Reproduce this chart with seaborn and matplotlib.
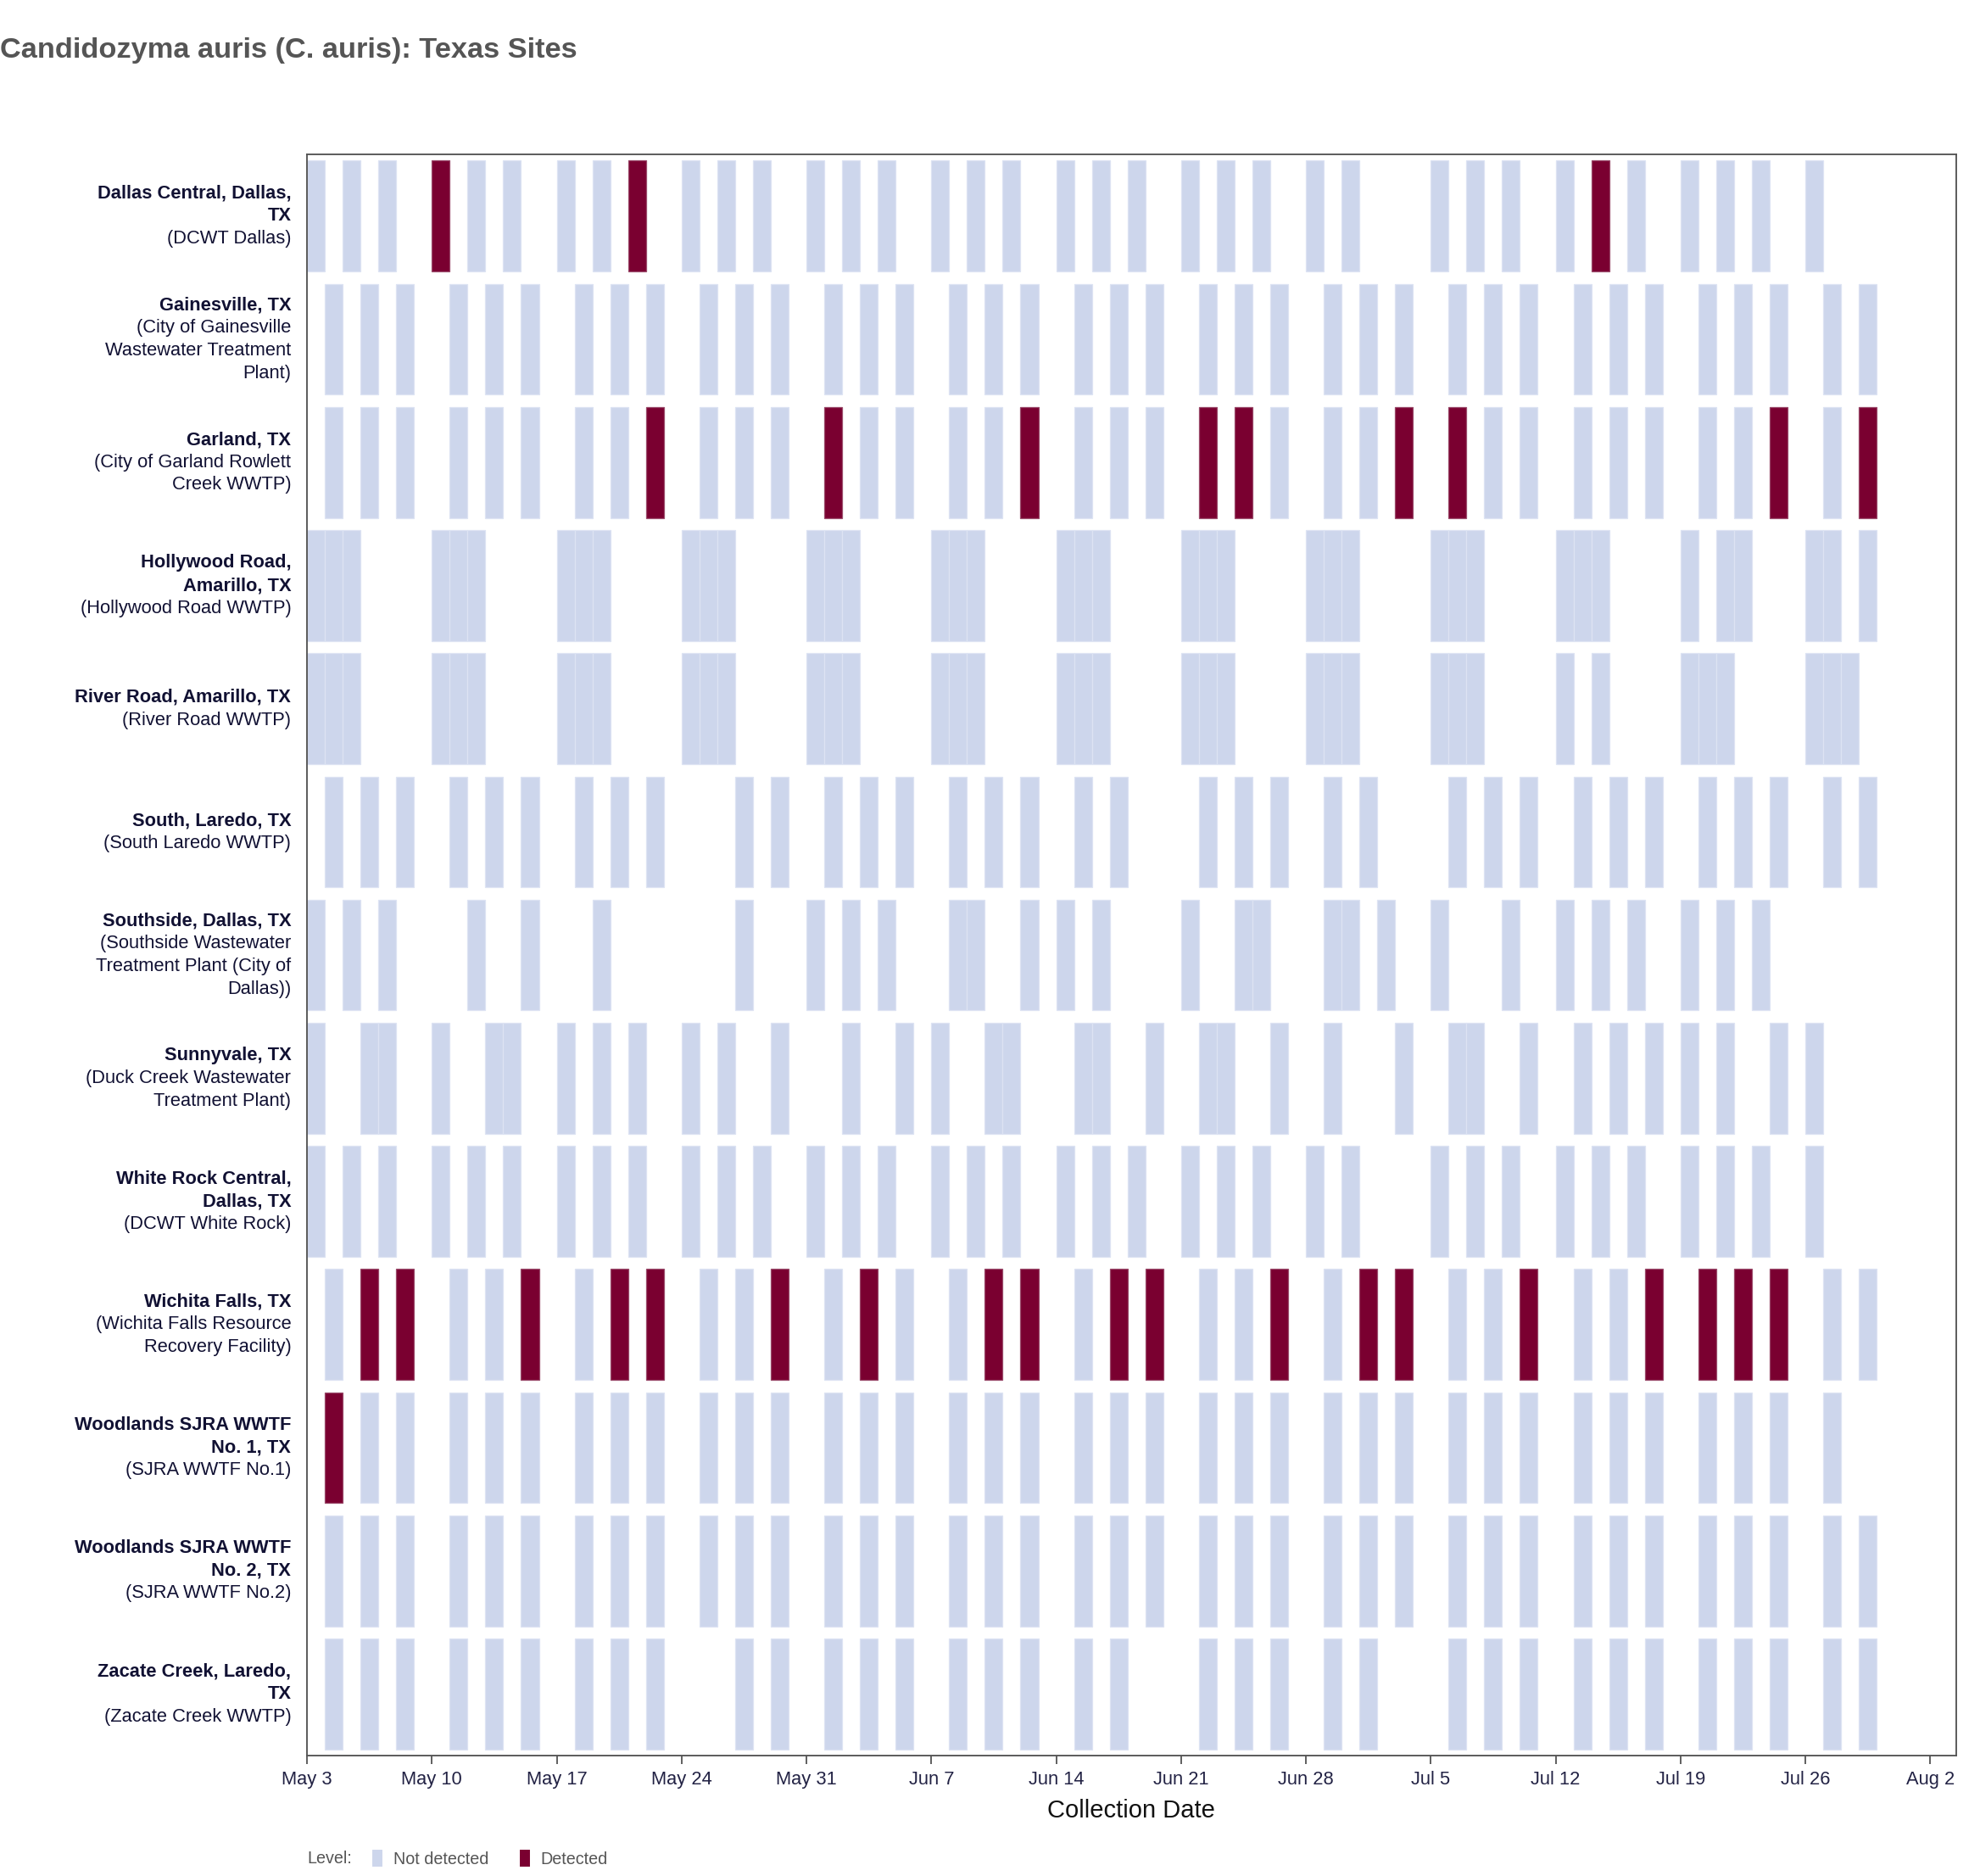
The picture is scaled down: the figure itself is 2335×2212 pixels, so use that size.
import matplotlib
matplotlib.use("Agg")
import matplotlib.pyplot as plt
import matplotlib.transforms as mtransforms
from matplotlib.patches import Patch
import seaborn as sns
import numpy as np
import pandas as pd

# Sampling days counted from May 3 (day 0)
dallas_days = [0, 2, 4, 7, 9, 11, 14, 16, 18, 21, 23, 25, 28, 30, 32, 35, 37, 39, 42, 44, 46,
               49, 51, 53, 56, 58, 63, 65, 67, 70, 72, 74, 77, 79, 81, 84]
gaines_days = [1, 3, 5, 8, 10, 12, 15, 17, 19, 22, 24, 26, 29, 31, 33, 36, 38, 40, 43, 45, 47,
               50, 52, 54, 57, 59, 61, 64, 66, 68, 71, 73, 75, 78, 80, 82, 85, 87]
laredo_days = [d for d in gaines_days if d not in (22, 47, 61)]
hollywood_days = [0, 1, 2, 7, 8, 9, 14, 15, 16, 21, 22, 23, 28, 29, 30, 35, 36, 37, 42, 43, 44,
                  49, 50, 51, 56, 57, 58, 63, 64, 65, 70, 71, 72, 77, 79, 80, 84, 85, 87]
river_days = [0, 1, 2, 7, 8, 9, 14, 15, 16, 21, 22, 23, 28, 29, 30, 35, 36, 37, 42, 43, 44,
              49, 50, 51, 56, 57, 58, 63, 64, 65, 70, 72, 77, 78, 79, 84, 85, 86]
southside_days = [0, 2, 4, 9, 12, 16, 24, 28, 30, 32, 36, 37, 40, 42, 44, 49, 52, 53, 57, 58,
                  60, 63, 67, 70, 72, 74, 77, 79, 81]
sunnyvale_days = [0, 3, 4, 7, 10, 11, 14, 16, 18, 21, 23, 26, 30, 33, 35, 38, 39, 43, 44, 47,
                  50, 51, 54, 57, 61, 64, 65, 68, 71, 73, 75, 77, 79, 82, 84]
woodlands1_days = [d for d in gaines_days if d != 87]

sites = [
    (["Dallas Central, Dallas,", "TX"], ["(DCWT Dallas)"], dallas_days, [7, 18, 72]),
    (["Gainesville, TX"], ["(City of Gainesville", "Wastewater Treatment", "Plant)"], gaines_days, []),
    (["Garland, TX"], ["(City of Garland Rowlett", "Creek WWTP)"], gaines_days,
     [19, 29, 40, 50, 52, 61, 64, 82, 87]),
    (["Hollywood Road,", "Amarillo, TX"], ["(Hollywood Road WWTP)"], hollywood_days, []),
    (["River Road, Amarillo, TX"], ["(River Road WWTP)"], river_days, []),
    (["South, Laredo, TX"], ["(South Laredo WWTP)"], laredo_days, []),
    (["Southside, Dallas, TX"], ["(Southside Wastewater", "Treatment Plant (City of", "Dallas))"],
     southside_days, []),
    (["Sunnyvale, TX"], ["(Duck Creek Wastewater", "Treatment Plant)"], sunnyvale_days, []),
    (["White Rock Central,", "Dallas, TX"], ["(DCWT White Rock)"], dallas_days, []),
    (["Wichita Falls, TX"], ["(Wichita Falls Resource", "Recovery Facility)"], gaines_days,
     [3, 5, 12, 17, 19, 26, 31, 38, 40, 45, 47, 54, 59, 61, 68, 75, 78, 80, 82]),
    (["Woodlands SJRA WWTF", "No. 1, TX"], ["(SJRA WWTF No.1)"], woodlands1_days, [1]),
    (["Woodlands SJRA WWTF", "No. 2, TX"], ["(SJRA WWTF No.2)"], gaines_days, []),
    (["Zacate Creek, Laredo,", "TX"], ["(Zacate Creek WWTP)"], laredo_days, []),
]

tick_labels = ["May 3", "May 10", "May 17", "May 24", "May 31", "Jun 7", "Jun 14",
               "Jun 21", "Jun 28", "Jul 5", "Jul 12", "Jul 19", "Jul 26", "Aug 2"]

NOT_DET = "#cdd6ec"
DET = "#7a0030"

sns.set_style("white")
plt.rcParams['font.family'] = ['Liberation Sans', 'DejaVu Sans']

rows = []
for i, (_, _, days, det) in enumerate(sites):
    for d in days:
        rows.append({"row": i, "day": d, "detected": d in det})
df = pd.DataFrame(rows)

fig = plt.figure(figsize=(15.573, 14.747), dpi=150)
ax = fig.add_axes([0.155, 0.0642, 0.8325, 0.8534])

for flag, color, edge in [(False, NOT_DET, "#dde3f3"), (True, DET, "#9a4a6a")]:
    sub = df[df["detected"] == flag]
    ax.bar(sub["day"], 0.9, bottom=sub["row"] - 0.45, width=1.0, align="edge",
           color=color, edgecolor=edge, linewidth=0.6)

ax.set_xlim(0, 92.45)
ax.set_ylim(12.5, -0.5)
ax.set_xticks(np.arange(len(tick_labels)) * 7)
ax.set_xticklabels(tick_labels, fontsize=10.5, color="#222244")
ax.tick_params(axis="x", length=5, color="#444444", bottom=True)
ax.set_yticks([])
ax.set_xlabel("Collection Date", fontsize=14, color="#111111", labelpad=6)
for s in ax.spines.values():
    s.set_color("#555555")
    s.set_linewidth(0.9)

# y labels: bold site name + normal plant description
line_h = 12.8
for i, (bold_lines, norm_lines, _, _) in enumerate(sites):
    lines = [(t, "bold") for t in bold_lines] + [(t, "normal") for t in norm_lines]
    n = len(lines)
    for k, (t, w) in enumerate(lines):
        off = ((n - 1) / 2 - k) * line_h
        tr = mtransforms.offset_copy(ax.get_yaxis_transform(), fig=fig, x=-9, y=off, units="points")
        ax.text(0, i, t, transform=tr, ha="right", va="center", fontsize=10.5,
                fontweight=w, color="#111133")

fig.text(0.0, 0.973, "Candidozyma auris (C. auris): Texas Sites", fontsize=16.5,
         fontweight="bold", color="#555555", ha="left", va="center")

fig.text(0.155, 0.0095, "Level:", fontsize=9.5, color="#555555", ha="left", va="center")
handles = [Patch(facecolor=NOT_DET, label="Not detected"), Patch(facecolor=DET, label="Detected")]
fig.legend(handles=handles, loc="center left", bbox_to_anchor=(0.18, 0.0095), ncol=2,
           frameon=False, fontsize=9.5, handlelength=0.7, handleheight=1.3,
           columnspacing=1.8, handletextpad=0.6, labelcolor="#555555")

fig.savefig("out.png", dpi=150)
